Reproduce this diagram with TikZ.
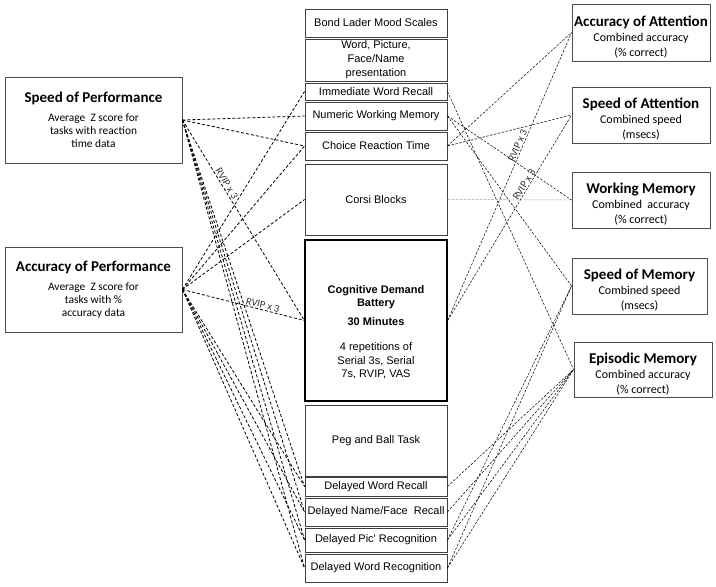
\documentclass[tikz,border=0pt]{standalone}
\usepackage{fontspec}
\setmainfont{Carlito}
\newfontfamily\arialfont{Liberation Sans}
\usepackage{tikz}
\usetikzlibrary{positioning,calc}
\newcommand{\boxtitle}{\bfseries\fontsize{15}{17}\selectfont}
\newcommand{\domtitle}{\boxtitle\rule{0pt}{19pt}}
\tikzstyle{outbox} = [rectangle, draw=black!70, line width=0.9pt, align=center, inner xsep=1pt, inner ysep=0pt]
\tikzstyle{perfbox} = [outbox, minimum width=177pt, font=\fontsize{11.4}{13}\selectfont]
\tikzstyle{domainbox} = [outbox, minimum width=138pt, minimum height=56pt, font=\fontsize{12}{15}\selectfont]
\tikzstyle{task} = [rectangle, draw=black!75, line width=0.9pt, minimum width=142pt, align=center, inner xsep=1pt, inner ysep=0pt, font=\arialfont\fontsize{11}{14}\selectfont]
\tikzstyle{link} = [line width=0.8pt, dash pattern=on 3pt off 2pt]
\tikzstyle{thinlink} = [line width=0.5pt, dash pattern=on 2.5pt off 1.5pt]
\tikzstyle{rvip} = [font=\fontsize{10.5}{12}\selectfont, text=black!80, sloped, above, inner sep=1pt]

\begin{document}
\begin{tikzpicture}[x=1pt, y=-1pt]
				\useasboundingbox (0,0) rectangle (716,587);
				% outcome measures, left
				\node[perfbox, minimum height=86pt] (spdperf) at (93.5,120) {{\boxtitle Speed of Performance}\\[6pt]
					Average\ \ Z score for\\tasks with reaction\\time data};
				\node[perfbox, minimum height=85pt] (accperf) at (93.5,289.5) {{\boxtitle Accuracy of Performance}\\[6pt]
					Average\ \ Z score for\\tasks with \%\\accuracy data};
				
				% task column
				\node[task, minimum height=28pt] (bond) at (376,23) {Bond Lader Mood Scales};
				\node[task, minimum height=42pt] (wpf) at (376,60) {Word, Picture,\\Face/Name\\presentation};
				\node[task, minimum height=17pt] (iwr) at (376,91.5) {Immediate Word Recall};
				\node[task, minimum height=28pt] (nwm) at (376,116) {Numeric Working Memory};
				\node[task, minimum height=28pt] (crt) at (376,146) {Choice Reaction Time};
				\node[task, minimum height=71pt] (corsi) at (376,199.5) {Corsi Blocks};
				\node[task, minimum height=161pt, draw=black, line width=1.3pt] (cdb) at (376,320.5) {};
				\node[align=center, font=\arialfont\fontsize{11}{13.5}\selectfont] (cdbtext) at (376,332) {\textbf{Cognitive Demand}\\\textbf{Battery}\\[5pt]
					\textbf{30 Minutes}\\[12pt]4 repetitions of\\Serial 3s, Serial\\7s, RVIP, VAS};
				\node[task, minimum height=71pt] (peg) at (376,440.5) {Peg and Ball Task};
				\node[task, minimum height=19pt] (dwr) at (376,486.5) {Delayed Word Recall};
				\node[task, minimum height=28pt] (dnf) at (376,512) {Delayed Name/Face\ \ Recall};
				\node[task, minimum height=24pt] (dpr) at (376,540) {Delayed Pic' Recognition};
				\node[task, minimum height=28pt] (dwrec) at (376,568) {Delayed Word Recognition};
				
				% outcome measures, right
				\node[domainbox, minimum height=57pt] (accatt) at (641,32.5) {{\domtitle Accuracy of Attention}\\
					Combined accuracy\\(\% correct)};
				\node[domainbox] (spdatt) at (641,115) {{\domtitle Speed of Attention}\\
					Combined speed\\(msecs)};
				\node[domainbox] (wm) at (641,200) {{\domtitle Working Memory}\\
					Combined\ \ accuracy\\(\% correct)};
				\node[domainbox, minimum width=135pt] (spdmem) at (639.5,286) {{\domtitle Speed of Memory}\\
					Combined speed\\(msecs)};
				\node[domainbox, minimum height=55pt] (epimem) at (643,369.5) {{\domtitle Episodic Memory}\\
					Combined accuracy\\(\% correct)};
				
				% left links
				\draw[link] (spdperf.east) -- (nwm.west);
				\draw[link] (spdperf.east) -- (crt.west);
				\draw[link] (spdperf.east) -- node[rvip, pos=0.33] {RVIP x 3} (cdb.west);
				\foreach \t in {dwr,dnf,dpr,dwrec}
					\draw[link] (spdperf.east) -- (\t.west);
				\draw[link] (accperf.east) -- (iwr.west);
				\draw[link] (accperf.east) -- (crt.west);
				\draw[link] (accperf.east) -- (corsi.west);
				\draw[link] (accperf.east) -- node[rvip, pos=0.65] {RVIP x 3} (cdb.west);
				\foreach \t in {dwr,dnf,dpr,dwrec}
					\draw[link] (accperf.east) -- (\t.west);
				
				% right links
				\draw[thinlink] (iwr.east) -- (epimem.west);
				\draw[thinlink] (nwm.east) -- (wm.west);
				\draw[thinlink] (nwm.east) -- (spdmem.west);
				\draw[thinlink] (crt.east) -- (accatt.west);
				\draw[thinlink] (crt.east) -- (spdatt.west);
				\draw[thinlink, black!40] (corsi.east) -- (wm.west);
				\draw[thinlink] (cdb.east) -- node[rvip, pos=0.6] {RVIP x 3} (accatt.west);
				\draw[thinlink] (cdb.east) -- node[rvip, pos=0.65] {RVIP x 3} (spdatt.west);
				\foreach \t in {dpr,dwrec}
					\draw[thinlink] (\t.east) -- (spdmem.west);
				\foreach \t in {dwr,dnf,dpr,dwrec}
					\draw[thinlink] (\t.east) -- (epimem.west);
			\end{tikzpicture}
\end{document}
